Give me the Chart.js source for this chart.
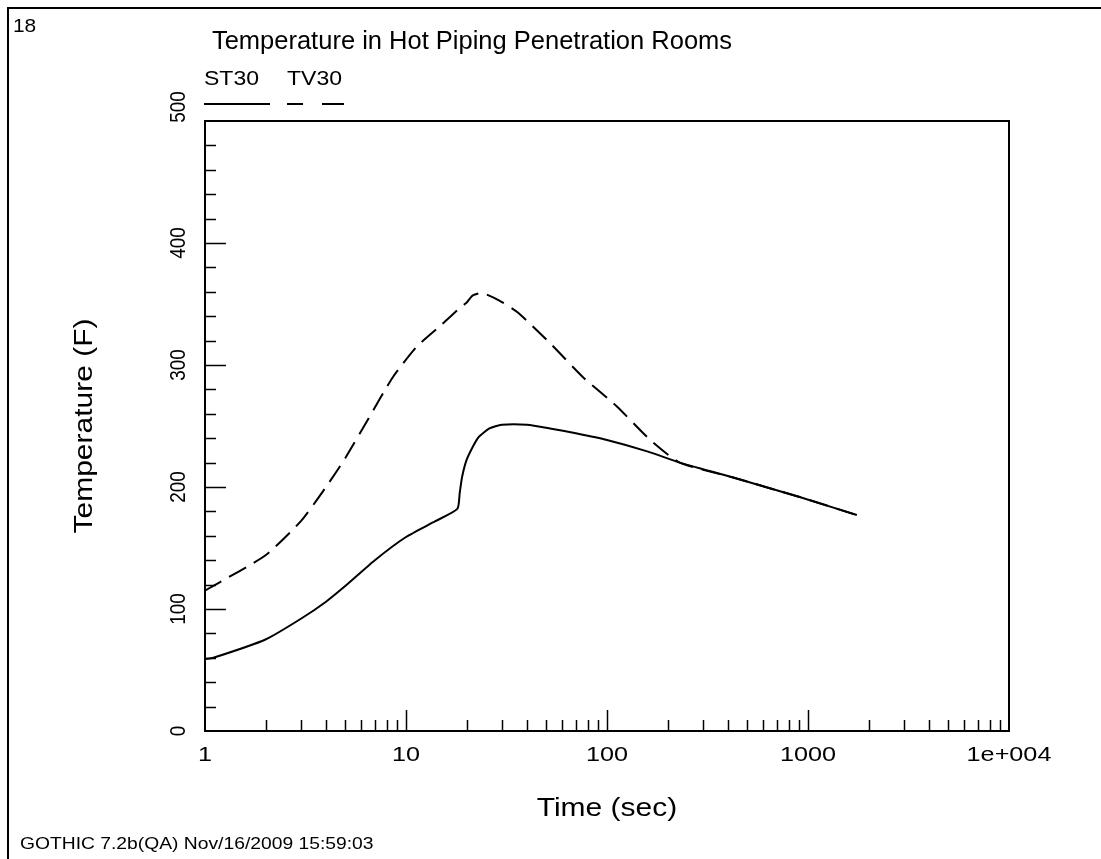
<!DOCTYPE html>
<html>
<head>
<meta charset="utf-8">
<script src="https://cdn.jsdelivr.net/npm/chart.js@4.4.1/dist/chart.umd.min.js"></script>
<style>
  body { margin: 0; background: #fff; }
  canvas { display: block; }
</style>
</head>
<body>
<canvas id="tempChart" width="1101" height="859"></canvas>
<script>
// ST30 (solid)
var stTime = [1, 1.1, 2, 3, 4, 5, 7, 10, 14, 18, 18.5, 19, 20, 21.5, 23, 26, 30, 40, 52, 70, 100, 160, 230, 420, 900, 1750];
var stTemp = [59, 60, 75, 92, 106, 119, 140, 159, 172, 182, 195, 208, 222, 233, 241, 248, 251, 251, 248, 244, 238.5, 229, 220, 208, 192, 177];

// TV30 (dashed)
var tvTime = [1, 1.1, 2, 3, 4, 5, 6.5, 8.6, 11.3, 15, 18.6, 20, 21.5, 24, 29, 36, 52, 76, 112, 163, 230, 420, 900, 1750];
var tvTemp = [115, 119, 144, 172, 200, 224, 256, 290, 315, 333, 347, 351, 357, 359, 353, 343, 318, 290, 266, 239, 220, 208, 192, 177];

// axis ticks
var xMajor = [1, 10, 100, 1000, 10000];
var xLabels = ['1', '10', '100', '1000', '1e+004'];
var yMajor = [0, 100, 200, 300, 400, 500];
var yMinorStep = 20;

function toPoints(xs, ys) {
    var pts = [];
    for (var i = 0; i < xs.length; i++) {
        pts.push({ x: xs[i], y: ys[i] });
    }
    return pts;
}

var FONT = '"Liberation Sans", Arial, sans-serif';

// text in the original is wider than plain Arial, so stretch it.
// rotate=true -> reads bottom to top. alongText: stretch along the text instead of screen x
function stretchText(ctx, txt, x, y, size, sx, rotate, align, alongText) {
    ctx.save();
    ctx.translate(x, y);
    if (rotate) {
        if (alongText) {
            ctx.rotate(-Math.PI / 2);
            ctx.scale(sx, 1);
        } else {
            ctx.scale(sx, 1);
            ctx.rotate(-Math.PI / 2);
        }
    } else {
        ctx.scale(sx, 1);
    }
    ctx.font = size + 'px ' + FONT;
    ctx.textAlign = align || 'center';
    ctx.textBaseline = 'middle';
    ctx.fillText(txt, 0, 0);
    ctx.restore();
}

var framePlugin = {
    id: 'frame',
    afterDraw: function (chart) {
        var ctx = chart.ctx;
        var xs = chart.scales.x;
        var ys = chart.scales.y;
        var a = chart.chartArea;
        ctx.save();
        ctx.fillStyle = '#000';
        ctx.strokeStyle = '#000';

        // page frame
        ctx.lineWidth = 2;
        ctx.beginPath();
        ctx.moveTo(8, 859);
        ctx.lineTo(8, 8);
        ctx.lineTo(1101, 8);
        ctx.stroke();

        // plot box
        ctx.lineWidth = 2;
        ctx.strokeRect(a.left, a.top, a.right - a.left, a.bottom - a.top);

        // x ticks (inside)
        ctx.lineWidth = 1.5;
        for (var d = 0; d < xMajor.length - 1; d++) {
            for (var m = 1; m <= 9; m++) {
                var v = xMajor[d] * m;
                if (v <= xs.min || v >= xs.max) continue;
                var px = Math.round(xs.getPixelForValue(v)) + 0.5;
                var len = (m === 1) ? 21 : 11;
                ctx.beginPath();
                ctx.moveTo(px, a.bottom);
                ctx.lineTo(px, a.bottom - len);
                ctx.stroke();
            }
        }
        xMajor.forEach(function (v, i) {
            stretchText(ctx, xLabels[i], xs.getPixelForValue(v), 755, 21, 1.2);
        });

        // y ticks (inside)
        for (var yv = yMajor[0] + yMinorStep; yv < yMajor[yMajor.length - 1]; yv += yMinorStep) {
            var py = Math.round(ys.getPixelForValue(yv)) + 0.5;
            var l = (yv % 100 === 0) ? 21 : 11;
            ctx.beginPath();
            ctx.moveTo(a.left, py);
            ctx.lineTo(a.left + l, py);
            ctx.stroke();
        }
        yMajor.forEach(function (v, i) {
            var off = (i === yMajor.length - 1) ? -14 : 0; // top label sits above the box edge
            stretchText(ctx, String(v), 179, ys.getPixelForValue(v) + off, 19, 1.2, true);
        });

        // titles
        ctx.font = '25.5px ' + FONT;
        ctx.textAlign = 'center';
        ctx.textBaseline = 'middle';
        ctx.fillText('Temperature in Hot Piping Penetration Rooms', 472, 42);
        stretchText(ctx, 'Time (sec)', (a.left + a.right) / 2, 809, 25, 1.2);
        stretchText(ctx, 'Temperature (F)', 85, (a.top + a.bottom) / 2, 25, 1.2, true, 'center', true);

        // legend
        stretchText(ctx, 'ST30', 204, 79, 20, 1.15, false, 'left');
        stretchText(ctx, 'TV30', 287, 79, 20, 1.15, false, 'left');
        ctx.lineWidth = 2;
        ctx.beginPath();
        ctx.moveTo(204, 104);
        ctx.lineTo(270, 104);
        ctx.moveTo(287, 104);
        ctx.lineTo(303, 104);
        ctx.moveTo(322, 104);
        ctx.lineTo(344, 104);
        ctx.stroke();

        // corner number and footer
        stretchText(ctx, '18', 13, 27, 19, 1.1, false, 'left');
        stretchText(ctx, 'GOTHIC 7.2b(QA) Nov/16/2009 15:59:03', 20, 845, 15.8, 1.22, false, 'left');
        ctx.restore();
    }
};

var ctxTemp = document.getElementById('tempChart').getContext('2d');
var tempChart = new Chart(ctxTemp, {
    type: 'line',
    data: {
        datasets: [{
            label: 'ST30',
            data: toPoints(stTime, stTemp),
            borderColor: '#000',
            borderWidth: 2,
            pointRadius: 0,
            fill: false,
            tension: 0.2
        }, {
            label: 'TV30',
            data: toPoints(tvTime, tvTemp),
            borderColor: '#000',
            borderWidth: 2,
            borderDash: [19, 9],
            pointRadius: 0,
            fill: false,
            tension: 0.2
        }]
    },
    options: {
        responsive: false,
        animation: false,
        layout: {
            padding: { left: 205, top: 121, right: 92, bottom: 128 }
        },
        scales: {
            x: { type: 'logarithmic', min: 1, max: 10000, display: false },
            y: { type: 'linear', min: 0, max: 500, display: false }
        },
        plugins: {
            legend: { display: false },
            tooltip: { enabled: false }
        }
    },
    plugins: [framePlugin]
});
</script>
</body>
</html>
